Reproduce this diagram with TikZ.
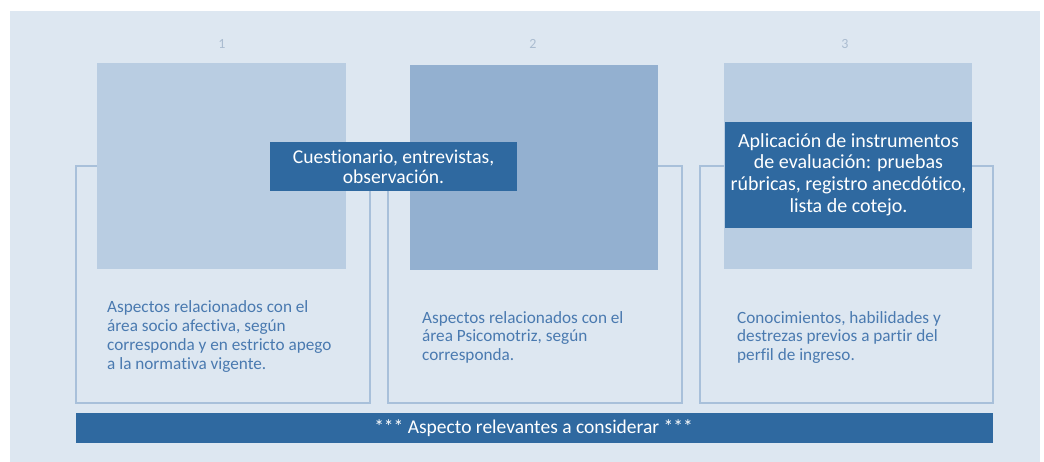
\documentclass[tikz,border=0pt]{standalone}
\usepackage{fontspec}
\setmainfont{Carlito}[Ligatures=NoCommon]
\definecolor{bg}{HTML}{DDE7F1}
\definecolor{sqlight}{HTML}{B9CDE2}
\definecolor{sqdark}{HTML}{93B0D0}
\definecolor{darkbox}{HTML}{2F69A0}
\definecolor{outl}{HTML}{A8C0DA}
\definecolor{bodytxt}{HTML}{4A7AB0}
\definecolor{numtxt}{HTML}{AABCD0}
\begin{document}
\begin{tikzpicture}[x=1pt,y=-1pt,
  outlinebox/.style={draw=outl,line width=2.5pt},
  whitetext/.style={text=white,align=center,inner sep=0pt},
  bodytext/.style={anchor=base west,text=bodytxt,font=\fontsize{17.2}{18.7}\selectfont,align=left,inner sep=0pt},
  numlabel/.style={text=numtxt,font=\fontsize{14}{16}\selectfont,inner sep=0pt}]
\useasboundingbox (0,0) rectangle (1044,462);
\fill[white] (0,0) rectangle (1044,462);
\fill[bg] (10,11) rectangle (1040,462);
% outline boxes
\draw[outlinebox] (76,166) rectangle (370,403);
\draw[outlinebox] (388,166) rectangle (682,403);
\draw[outlinebox] (700,166) rectangle (993,403);
% squares
\fill[sqlight] (97,63) rectangle (346,269);
\fill[sqdark] (410,65) rectangle (658,270);
\fill[sqlight] (724,63) rectangle (972,269);
% numbers
\node[numlabel] (n1) at (222,44) {1};
\node[numlabel] (n2) at (533,44) {2};
\node[numlabel] (n3) at (845,44) {3};
% dark boxes
\fill[darkbox] (270,142) rectangle (517,191);
\node[whitetext,font=\fontsize{19.6}{20}\selectfont] (cuest) at (393.5,167) {Cuestionario, entrevistas,\\observación.};
\fill[darkbox] (725,122) rectangle (972,228);
\node[whitetext,font=\fontsize{20}{21.6}\selectfont] (apli) at (848.5,174.5) {Aplicación de instrumentos\\de evaluación: pruebas\\rúbricas, registro anecdótico,\\lista de cotejo.};
% body texts (anchored at the baseline of the last line)
\node[bodytext] (t1) at (107,369) {Aspectos relacionados con el\\área socio afectiva, según\\corresponda y en estricto apego\\a la normativa vigente.};
\node[bodytext] (t2) at (422,360.4) {Aspectos relacionados con el\\área Psicomotriz, según\\corresponda.};
\node[bodytext] (t3) at (737,360.4) {Conocimientos, habilidades y\\destrezas previos a partir del\\perfil de ingreso.};
% bottom bar
\fill[darkbox] (76,413) rectangle (993,443);
\node[whitetext,font=\fontsize{19.5}{20}\selectfont] (bar) at (533.5,428) {*** Aspecto relevantes a considerar ***};
\end{tikzpicture}
\end{document}
